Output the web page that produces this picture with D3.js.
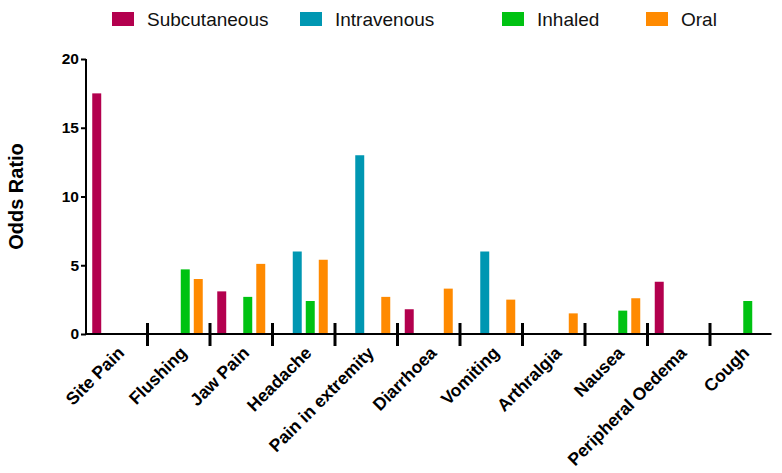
<!DOCTYPE html>
<html>
<head>
<meta charset="utf-8">
<script src="https://cdn.jsdelivr.net/npm/d3@7"></script>
<style>
	body { margin: 0; background: #fff; }
	svg { display: block; font-family: 'Liberation Sans', Arial, sans-serif; }
</style>
</head>
<body>
<script>
const categories = ['Site Pain', 'Flushing', 'Jaw Pain', 'Headache', 'Pain in extremity', 'Diarrhoea', 'Vomiting', 'Arthralgia', 'Nausea', 'Peripheral Oedema', 'Cough']
const routes = ['Subcutaneous', 'Intravenous', 'Inhaled', 'Oral']
const subcutaneous = [17.5, null, 3.1, null, null, 1.8, null, null, null, 3.8, null]
const intravenous = [null, null, null, 6.0, 13.0, null, 6.0, null, null, null, null]
const inhaled = [null, 4.7, 2.7, 2.4, null, null, null, null, 1.7, null, 2.4]
const oral = [null, 4.0, 5.1, 5.4, 2.7, 3.3, 2.5, 1.5, 2.6, null, null]
const yTicks = [0, 5, 10, 15, 20]

const series = [subcutaneous, intravenous, inhaled, oral]
const colors = ['#b3004e', '#0097b2', '#00c212', '#ff8a00']
const legendX = [112, 300, 502, 646] // legend spacing in the original is uneven

const width = 782, height = 473
const svg = d3.select('body').append('svg').attr('width', width).attr('height', height)

const x = d3.scaleBand().domain(categories).range([86, 771.5]).paddingInner(0.232).paddingOuter(0.1)
const xSub = d3.scaleBand().domain(routes).range([0, x.bandwidth()]).paddingInner(0.31)
const y = d3.scaleLinear().domain([0, 20]).range([334, 59])

// bars, skipping the empty slots
const bars = []
series.forEach((s, r) => s.forEach((v, i) => { if (v != null) bars.push({ cat: categories[i], route: routes[r], value: v, color: colors[r] }) }))
svg.append('g').selectAll('rect').data(bars).join('rect')
	.attr('x', d => x(d.cat) + xSub(d.route))
	.attr('width', xSub.bandwidth())
	.attr('y', d => y(d.value))
	.attr('height', d => y(0) - y(d.value))
	.attr('fill', d => d.color)

// y axis
const yAxis = svg.append('g').attr('transform', `translate(${x.range()[0]},0)`)
	.call(d3.axisLeft(y).tickValues(yTicks).tickSize(5).tickPadding(2))
yAxis.select('.domain').attr('stroke-width', 2).attr('d', `M0,${y(20)}V${y(0)}`)
yAxis.selectAll('.tick line').attr('stroke-width', 2)
yAxis.selectAll('.tick text').attr('font-size', 15.5).attr('font-weight', 'bold').attr('fill', '#000')
	.attr('font-family', "'Liberation Sans', Arial, sans-serif")

// x axis baseline
svg.append('line')
	.attr('x1', x.range()[0]).attr('x2', x.range()[1])
	.attr('y1', y(0)).attr('y2', y(0))
	.attr('stroke', '#000').attr('stroke-width', 2)

// separator ticks between categories
const gap = x.step() - x.bandwidth()
svg.append('g').selectAll('line').data(categories.slice(0, -1)).join('line')
	.attr('x1', d => x(d) + x.bandwidth() + gap / 2)
	.attr('x2', d => x(d) + x.bandwidth() + gap / 2)
	.attr('y1', y(0) - 11).attr('y2', y(0) + 12)
	.attr('stroke', '#000').attr('stroke-width', 3)

// category labels
svg.append('g').selectAll('text').data(categories).join('text')
	.attr('transform', d => `translate(${x(d) + x.bandwidth() / 2 + 9},${y(0) + 20}) rotate(-45)`)
	.attr('text-anchor', 'end')
	.attr('font-size', 17.5).attr('font-weight', 'bold')
	.text(d => d)

// y title
svg.append('text')
	.attr('transform', `translate(23,${(y(0) + y(20)) / 2}) rotate(-90)`)
	.attr('text-anchor', 'middle')
	.attr('font-size', 20).attr('font-weight', 'bold')
	.text('Odds Ratio')

// legend
const legend = svg.append('g').selectAll('g').data(routes).join('g')
	.attr('transform', (_, i) => `translate(${legendX[i]},12)`)
legend.append('rect').attr('width', 22).attr('height', 14).attr('fill', (_, i) => colors[i])
legend.append('text').attr('x', 35).attr('y', 14).attr('font-size', 19).attr('fill', '#111').text(d => d)
</script>
</body>
</html>
